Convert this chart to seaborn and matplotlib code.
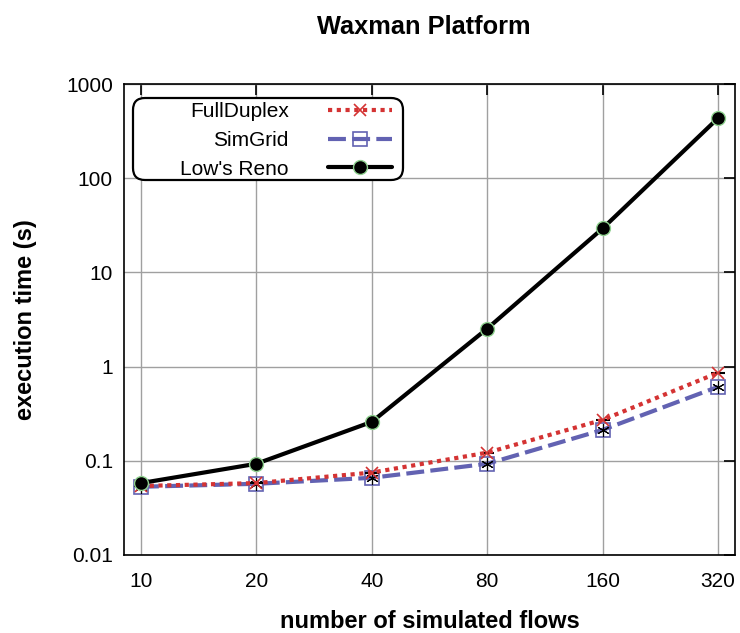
import matplotlib
matplotlib.use("Agg")
import matplotlib.pyplot as plt
import seaborn as sns
import pandas as pd
from matplotlib.ticker import FixedLocator, FixedFormatter, NullLocator
from matplotlib.patches import FancyBboxPatch

flows = [10, 20, 40, 80, 160, 320]
fullduplex = [0.054, 0.058, 0.075, 0.122, 0.272, 0.86]
simgrid = [0.053, 0.057, 0.066, 0.093, 0.213, 0.61]
lows_reno = [0.058, 0.093, 0.259, 2.53, 29.3, 434]
series_names = ["FullDuplex", "SimGrid", "Low's Reno"]
y_ticks = [0.01, 0.1, 1, 10, 100, 1000]
y_tick_labels = ["0.01", "0.1", "1", "10", "100", "1000"]

sns.set_theme(style="white")
plt.rcParams['font.family'] = ['Liberation Sans', 'DejaVu Sans']
plt.rcParams['text.color'] = 'black'
plt.rcParams['axes.labelcolor'] = 'black'
plt.rcParams['xtick.color'] = 'black'
plt.rcParams['ytick.color'] = 'black'

df = pd.DataFrame({
    "flows": flows * 3,
    "time": fullduplex + simgrid + lows_reno,
    "series": [series_names[0]] * 6 + [series_names[1]] * 6 + [series_names[2]] * 6,
})

fig = plt.figure(figsize=(7.4, 6.33), dpi=100)
ax = fig.add_axes([124/740, 1 - 555/633, (735-124)/740, (555-84)/633])

red = "#d43333"
blue = "#6262b2"

styles = {
    "FullDuplex": dict(color=red, linestyle=(0, (1.0, 1.1)), linewidth=3.0,
                       marker="x", markersize=9, markeredgewidth=1.2,
                       markeredgecolor=red, zorder=3),
    "SimGrid": dict(color=blue, linestyle=(0, (4.3, 1.5)), linewidth=3.0,
                    marker="s", markersize=10, markerfacecolor="none",
                    markeredgewidth=1.2, markeredgecolor=blue, zorder=2),
    "Low's Reno": dict(color="black", linestyle="-", linewidth=3.0,
                       marker="o", markersize=10, markerfacecolor="black",
                       markeredgecolor="#8fd18f", markeredgewidth=1.0, zorder=4),
}

handles = []
for name in series_names:
    sub = df[df["series"] == name]
    sns.lineplot(data=sub, x="flows", y="time", ax=ax, estimator=None,
                 sort=False, legend=False, **styles[name])
    handles.append(ax.lines[-1])

# small black overlay marks seen on the data points
sub = df[df["series"] == "SimGrid"]
ax.plot(sub["flows"], sub["time"], linestyle="none", marker=(6, 2, 0),
        markersize=9, markeredgecolor="black", markeredgewidth=0.8, zorder=2.5)
sub = df[df["series"] == "FullDuplex"]
ax.plot(sub["flows"], sub["time"], linestyle="none", marker="_",
        markersize=10, markeredgecolor="black", markeredgewidth=1.5, zorder=2.8)

ax.set_xscale("log", base=2)
ax.set_yscale("log")
pad = 0.147
ax.set_xlim(10 * 2 ** (-pad), 320 * 2 ** pad)
ax.set_ylim(0.01, 1000)

ax.xaxis.set_major_locator(FixedLocator(flows))
ax.xaxis.set_major_formatter(FixedFormatter([str(f) for f in flows]))
ax.xaxis.set_minor_locator(NullLocator())
ax.yaxis.set_major_locator(FixedLocator(y_ticks))
ax.yaxis.set_major_formatter(FixedFormatter(y_tick_labels))
ax.yaxis.set_minor_locator(NullLocator())

ax.grid(True, which="major", color="#a0a0a0", linewidth=1.0)
ax.set_axisbelow(True)
for s in ax.spines.values():
    s.set_color("black")
    s.set_linewidth(1.2)
ax.tick_params(axis="both", which="major", direction="in", length=8, width=1.2,
               color="black", labelcolor="black", labelsize=15, top=True, right=True,
               labeltop=False, labelright=False)
ax.tick_params(axis="y", pad=8)
ax.tick_params(axis="x", pad=12)

ax.set_xlabel("number of simulated flows", fontsize=17, fontweight="bold", color="black")
ax.set_ylabel("execution time (s)", fontsize=17, fontweight="bold", color="black")
ax.xaxis.label.set_va("center")
ax.yaxis.label.set_va("center")
ax.xaxis.set_label_coords(0.5, (555 - 621) / 471)
ax.yaxis.set_label_coords((25 - 124) / 611, 0.5)
fig.text(423.5/740, 1 - 27/633, "Waxman Platform", ha="center", va="center",
         fontsize=18.3, fontweight="bold", color="black")

leg = ax.legend(handles, series_names, loc="upper right",
                bbox_to_anchor=(392/740, 1 - 102/633), bbox_transform=fig.transFigure,
                markerfirst=False, fontsize=15, handlelength=3.05, handletextpad=1.9,
                labelspacing=0.47, borderpad=0.0, frameon=False, borderaxespad=0)
for t in leg.get_texts():
    t.set_color("black")
for col in leg._legend_handle_box.get_children():
    col.align = "right"

box = FancyBboxPatch((1.33 + 0.1, (633 - 180) / 100 + 0.1), 2.70 - 0.2, 0.82 - 0.2,
                     boxstyle="round,pad=0.1,rounding_size=0.12",
                     transform=fig.dpi_scale_trans, facecolor="white",
                     edgecolor="black", linewidth=1.6, zorder=4.5)
ax.add_artist(box)
box.set_clip_on(False)
leg.set_zorder(5)

fig.savefig("out.png", dpi=100)
